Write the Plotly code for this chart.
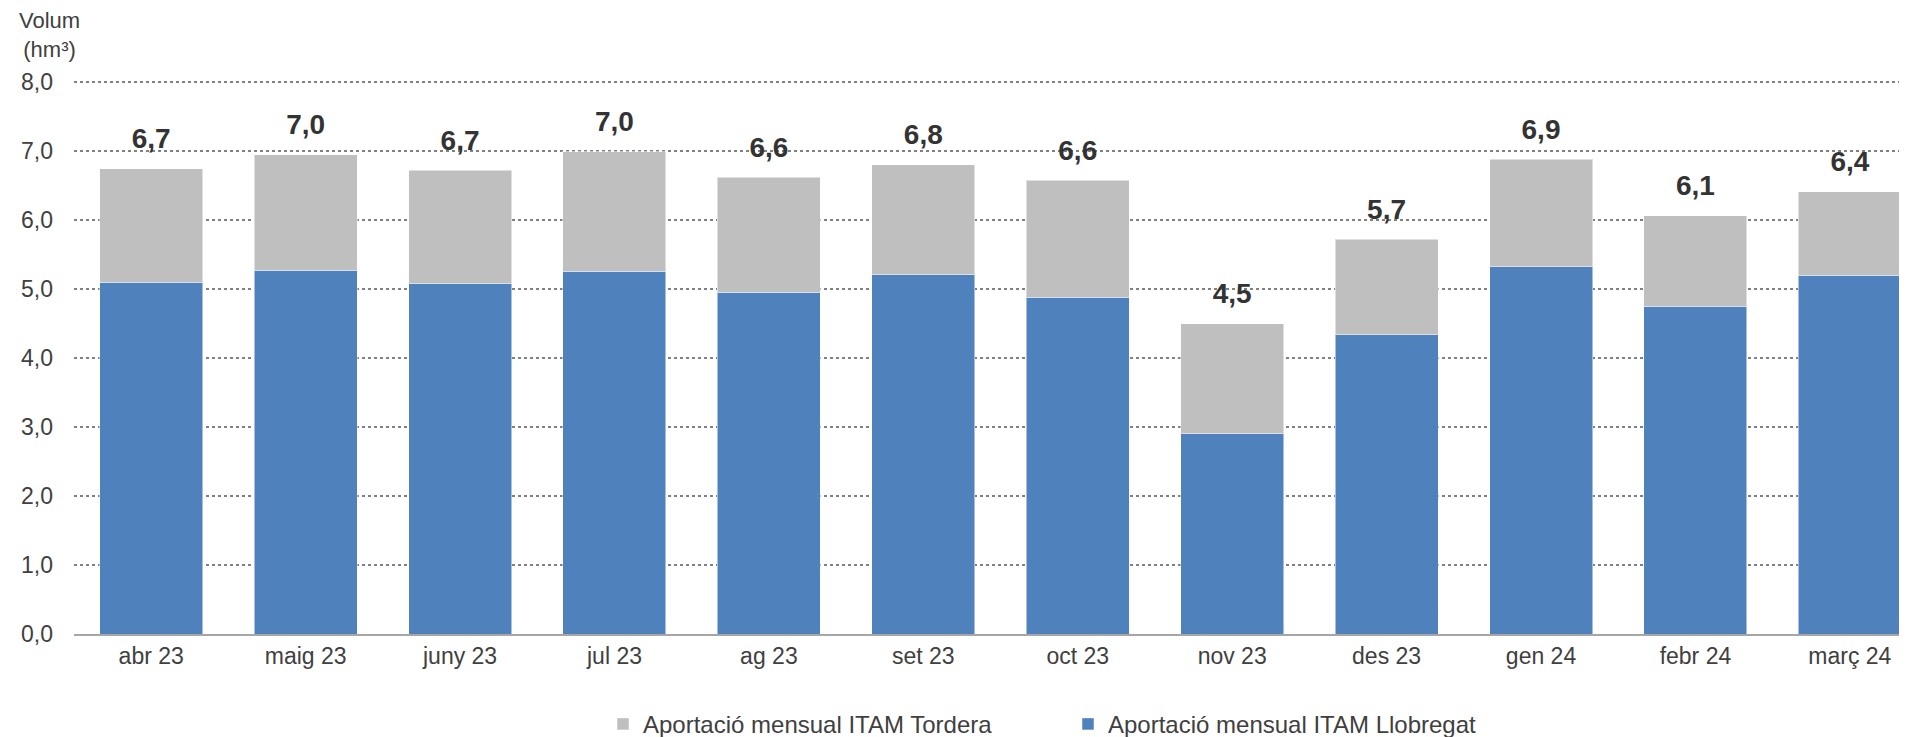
import plotly.graph_objects as go

months = ["abr 23", "maig 23", "juny 23", "jul 23", "ag 23", "set 23", "oct 23",
          "nov 23", "des 23", "gen 24", "febr 24", "març 24"]
llobregat = [5.10, 5.27, 5.08, 5.26, 4.95, 5.21, 4.88, 2.90, 4.34, 5.32, 4.75, 5.20]
tordera = [1.645, 1.68, 1.64, 1.73, 1.67, 1.59, 1.70, 1.60, 1.38, 1.56, 1.31, 1.21]
totals = [round(a + b, 3) for a, b in zip(llobregat, tordera)]
total_labels = [f"{t:.1f}".replace(".", ",") for t in totals]

BLUE = "#4F81BD"
GREY = "#BFBFBF"
FONT = "Liberation Sans, Arial, sans-serif"

fig = go.Figure()
fig.add_trace(go.Bar(
    x=months, y=llobregat, name="Aportació mensual ITAM Llobregat",
    marker=dict(color=BLUE, line=dict(color="rgba(255,255,255,0.5)", width=1)),
    legendrank=2, hoverinfo="skip",
))
fig.add_trace(go.Bar(
    x=months, y=tordera, name="Aportació mensual ITAM Tordera",
    marker=dict(color=GREY, line=dict(color="rgba(255,255,255,0.5)", width=1)),
    legendrank=1, hoverinfo="skip",
))
fig.add_trace(go.Scatter(
    x=months, y=totals, mode="markers+text", text=total_labels,
    textposition="top center",
    marker=dict(size=20, opacity=0),
    textfont=dict(family=FONT, size=28, color="#333333", weight="bold"),
    showlegend=False, cliponaxis=False, hoverinfo="skip",
))

fig.update_layout(
    width=1899, height=729,
    barmode="stack", bargap=0.333,
    separators=",.",
    paper_bgcolor="white", plot_bgcolor="white",
    font=dict(family=FONT, size=23, color="#404040"),
    margin=dict(l=66, r=0, t=72, b=103, autoexpand=False),
    legend=dict(orientation="h", x=0.2886, xanchor="left", y=-0.163, yanchor="middle",
                font=dict(size=24, color="#404040"), traceorder="normal",
                itemwidth=30, entrywidth=420),
    annotations=[dict(text="Volum<br>(hm³)", xref="paper", yref="paper",
                      x=-0.0135, y=1.133, xanchor="center", yanchor="top",
                      showarrow=False, align="center",
                      font=dict(size=22, color="#404040"))],
)
fig.update_xaxes(
    range=[-0.5, 11.37], showline=True, linecolor="#A6A6A6", linewidth=2,
    showgrid=False, ticks="", tickfont=dict(size=23, color="#404040"),
)
fig.update_yaxes(
    range=[0, 8.03], tickvals=[0, 1, 2, 3, 4, 5, 6, 7, 8], tickformat=".1f", showgrid=True,
    gridcolor="#808080", griddash="dot", gridwidth=1.5, zeroline=False,
    ticks="", ticklabelstandoff=20, tickfont=dict(size=23, color="#404040"),
)

fig.write_html("out.html")
